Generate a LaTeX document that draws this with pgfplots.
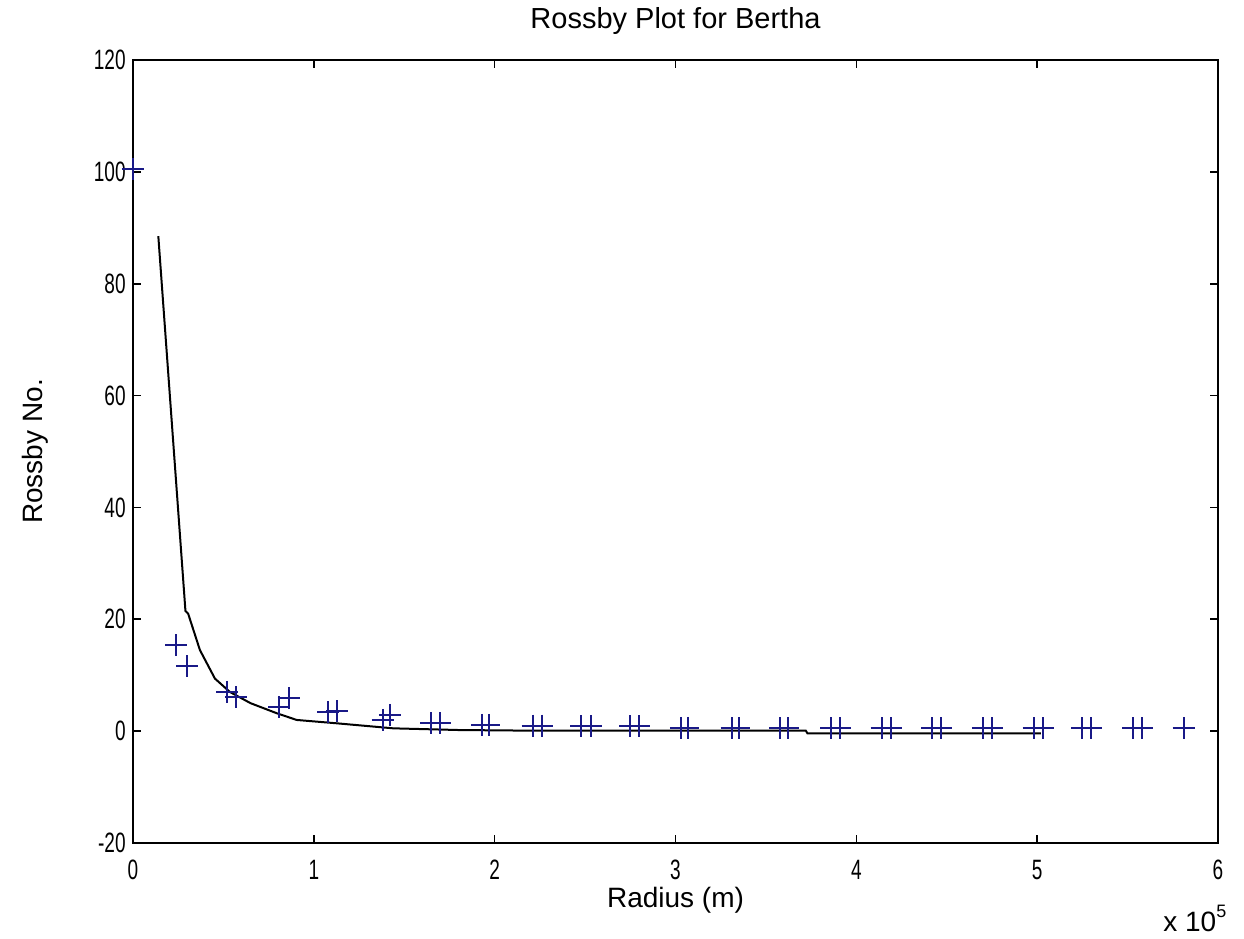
\documentclass[border=0pt]{standalone}
\usepackage{pgfplots}
\pgfplotsset{compat=1.18}
\usepackage{fontspec}
\setmainfont{Liberation Sans}
\newfontfamily\tickfont[FakeStretch=0.68]{Liberation Sans}
\definecolor{mblue}{RGB}{25,25,135}
\begin{document}
\begin{tikzpicture}
\begin{axis}[
  scale only axis, width=542.5pt, height=391.5pt,
  xmin=0, xmax=6, ymin=-20, ymax=120,
  xtick={0,1,2,3,4,5,6}, ytick={-20,0,20,40,60,80,100,120},
  tick align=inside, major tick length=4pt,
  axis line style={line width=0.8pt},
  every tick/.style={line width=0.8pt, black},
  /pgf/number format/assume math mode=true,
  xticklabel style={font=\tickfont\fontsize{14}{16}\selectfont, anchor=base, yshift=-18.5pt, inner sep=0pt},
  yticklabel style={font=\tickfont\fontsize{14}{16}\selectfont, anchor=east, xshift=-3.5pt, inner sep=0pt},
  title={Rossby Plot for Bertha},
  title style={font=\fontsize{14.5}{16}\selectfont, at={(rel axis cs:0.5,1.0244)}, anchor=base, inner sep=0pt},
  xlabel={Radius (m)},
  xlabel style={font=\fontsize{14}{16}\selectfont, at={(rel axis cs:0.5,-0.083)}, anchor=base, inner sep=0pt},
  ylabel={Rossby No.},
  ylabel style={font=\fontsize{14}{16}\selectfont, at={(rel axis cs:-0.083,0.5)}, anchor=base, inner sep=0pt},
  clip=false,
]
\addplot[black, line width=1pt, mark=none] coordinates {
  (0.14,88.5) (0.29,21.5) (0.305,21.0) (0.37,14.5) (0.453,9.4) (0.536,7.0)
  (0.65,5.0) (0.795,3.2) (0.905,2.0) (1.127,1.4) (1.44,0.5) (1.8,0.2)
  (2.15,0.1) (3.0,0.1) (3.72,0.1) (3.73,-0.4) (5.02,-0.4)
};
\addplot[only marks, mark=+, mark size=5.5pt, mblue, mark options={line width=1pt}] coordinates {
  (0.0,100.5)
  (0.24,15.4) (0.30,11.6)
  (0.52,7.0) (0.57,6.1)
  (0.81,4.3) (0.86,5.9)
  (1.08,3.4) (1.13,3.6)
  (1.38,2.0) (1.42,2.9)
  (1.65,1.4) (1.70,1.4)
  (1.93,1.1) (1.97,1.1)
  (2.21,1.0) (2.26,1.0)
  (2.48,0.9) (2.53,0.9)
  (2.75,0.9) (2.80,0.9)
  (3.03,0.6) (3.07,0.6)
  (3.31,0.5) (3.35,0.5)
  (3.58,0.5) (3.62,0.5)
  (3.86,0.5) (3.91,0.5)
  (4.14,0.5) (4.19,0.5)
  (4.42,0.5) (4.47,0.5)
  (4.70,0.5) (4.75,0.5)
  (4.98,0.5) (5.03,0.5)
  (5.25,0.5) (5.30,0.5)
  (5.53,0.5) (5.58,0.5)
  (5.81,0.5)
};
\node[anchor=base west, inner sep=0pt, font=\fontsize{14}{16}\selectfont] at ([xshift=-27.5pt,yshift=-44.5pt]rel axis cs:1,0) {x 10\raisebox{7pt}{\fontsize{9}{10}\selectfont 5}};
\end{axis}
\pgfresetboundingbox
\path ([shift={(-66.5pt,-48pt)}]current axis.south west) rectangle ([shift={(13pt,30pt)}]current axis.north east);
\end{tikzpicture}
\end{document}
